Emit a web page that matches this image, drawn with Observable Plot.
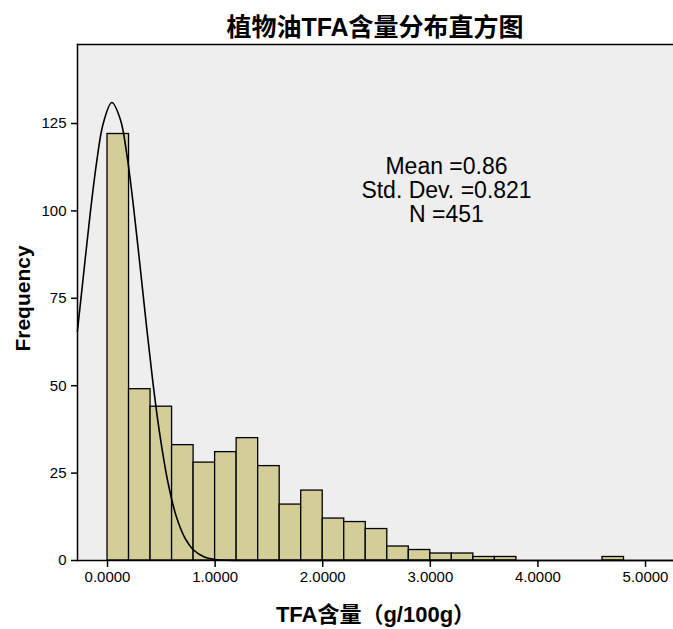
<!DOCTYPE html>
<html>
<head>
<meta charset="utf-8">
<script src="https://cdn.jsdelivr.net/npm/d3@7"></script>
<script src="https://cdn.jsdelivr.net/npm/@observablehq/plot@0.6"></script>
<style>
  body { margin: 0; background: #fff; }
  #wrap { width: 673px; height: 629px; position: relative; overflow: hidden; font-family: "Liberation Sans", Arial, "Noto Sans CJK SC", sans-serif; }
  #title { height: 40px; box-sizing: border-box; padding-top: 15px; padding-left: 77px; width: 673px; text-align: center; font-weight: bold; font-size: 25px; line-height: 25px; font-family: "Liberation Sans", Arial, "Noto Sans CJK SC", sans-serif; color: #000; white-space: nowrap; }
  svg { display: block; }
</style>
</head>
<body>
<div id="wrap">
  <div id="title">植物油TFA含量分布直方图</div>
  <div id="chart"></div>
</div>
<script>
// Histogram bins (lower edge, width 0.2) and frequencies
const binStart = [0.0, 0.2, 0.4, 0.6, 0.8, 1.0, 1.2, 1.4, 1.6, 1.8, 2.0, 2.2, 2.4, 2.6, 2.8, 3.0, 3.2, 3.4, 3.6, 3.8, 4.0, 4.2, 4.4, 4.6];
const counts   = [122, 49, 44, 33, 28, 31, 35, 27, 16, 20, 12, 11, 9, 4, 3, 2, 2, 1, 1, 0, 0, 0, 0, 1];
const binWidth = 0.2;

// Fitted curve as drawn
const curveX = [-0.28, -0.22, -0.16, -0.10, -0.04, 0.04, 0.12, 0.18, 0.24, 0.30, 0.36, 0.42, 0.48, 0.56, 0.64, 0.72, 0.80, 0.90, 1.00, 1.10, 1.20, 1.40, 5.26];
const curveY = [65.5, 82.6, 99.5, 114.2, 125.0, 131.0, 126.1, 116.0, 101.6, 84.9, 67.7, 51.4, 37.3, 22.6, 12.5, 6.4, 3.0, 1.0, 0.3, 0.06, 0, 0, 0];

// Tick values and labels
const xTicks = [0, 1, 2, 3, 4, 5];
const yTicks = [0, 25, 50, 75, 100, 125];
const xLabel = "TFA含量（g/100g）";
const yLabel = "Frequency";
const statsText = ["Mean =0.86", "Std. Dev. =0.821", "N =451"];

const bars = binStart.map((s, i) => ({x1: s, x2: s + binWidth, y: counts[i]}));
const curve = curveX.map((x, i) => ({x, y: curveY[i]}));

const chart = Plot.plot({
  width: 673,
  height: 589,
  marginTop: 4,
  marginBottom: 69,
  marginLeft: 77,
  marginRight: 0,
  style: {fontFamily: "'Liberation Sans', Arial, sans-serif", fontSize: "15px", background: "transparent", color: "#000"},
  x: {domain: [-0.279, 5.26], ticks: xTicks, tickFormat: d3.format(".4f"), tickSize: 7, tickPadding: 4, label: null},
  y: {domain: [0, 147.6], ticks: yTicks, tickSize: 6, tickPadding: 5, label: null},
  marks: [
    Plot.frame({fill: "#eeeeee", stroke: null}),
    Plot.rectY(bars, {x1: "x1", x2: "x2", y: "y", fill: "#d3ce98", stroke: "#000", strokeWidth: 1.3}),
    Plot.line(curve, {x: "x", y: "y", curve: "catmull-rom", stroke: "#000", strokeWidth: 1.6}),
    Plot.frame({anchor: "left", stroke: "#000", strokeWidth: 1.5}),
    Plot.frame({anchor: "top", stroke: "#000", strokeWidth: 1.5}),
    Plot.frame({anchor: "bottom", stroke: "#000", strokeWidth: 1.5}),
    Plot.axisX({ticks: xTicks, tickFormat: d3.format(".4f"), tickSize: 7, tickPadding: 4, label: null, strokeWidth: 1.5}),
    Plot.axisY({ticks: yTicks, tickSize: 6, tickPadding: 5, label: null, strokeWidth: 1.5}),
    Plot.text([statsText.join("\n")], {frameAnchor: "top", dx: 71, dy: 112, lineAnchor: "top", fontSize: 23, lineHeight: 1.045, fill: "#000"}),
    Plot.text([xLabel], {frameAnchor: "bottom", dy: 61, fontSize: 22, fontWeight: "bold", fill: "#000", fontFamily: "'Liberation Sans', Arial, 'Noto Sans CJK SC', sans-serif"}),
    Plot.text([yLabel], {frameAnchor: "left", dx: -54, rotate: -90, textAnchor: "middle", dy: -4, fontSize: 21, fontWeight: "bold", fill: "#000"})
  ]
});
document.getElementById("chart").appendChild(chart);
</script>
</body>
</html>
